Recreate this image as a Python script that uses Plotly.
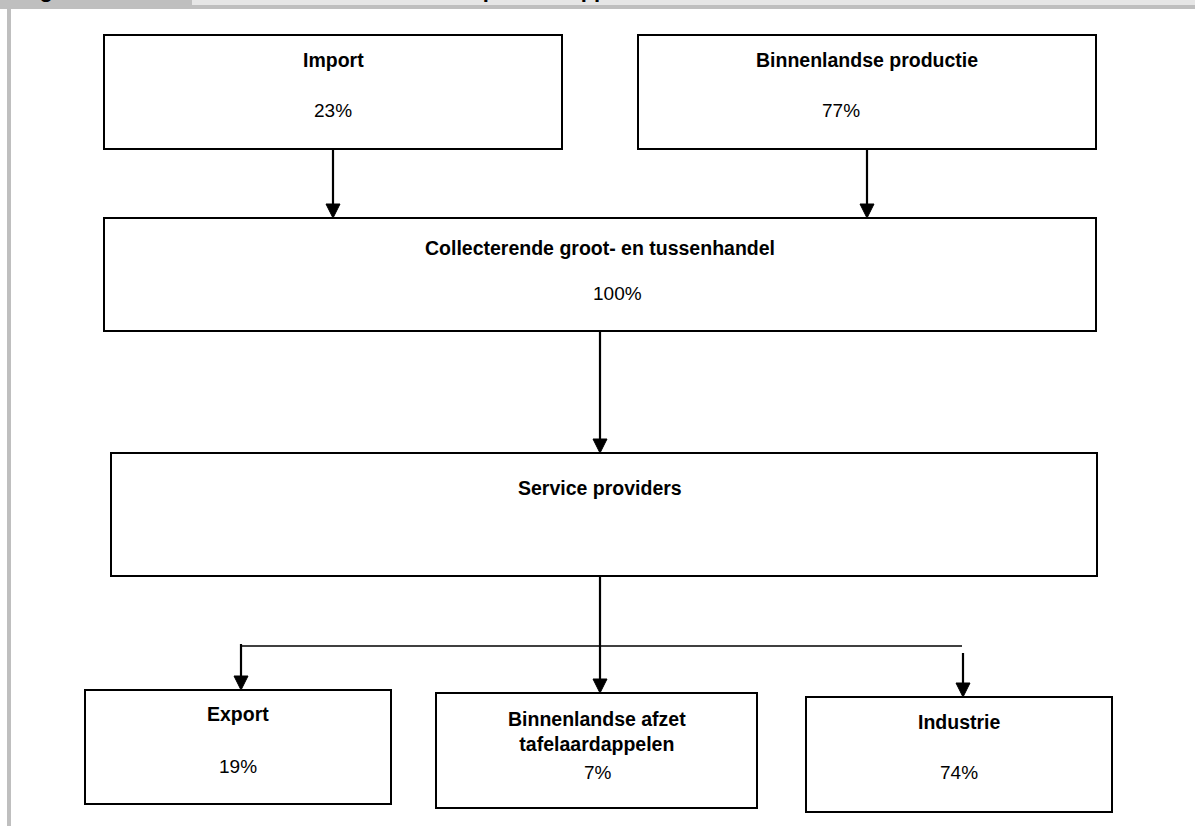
import plotly.graph_objects as go

# ---- data (labels and shares) ----
node_names = ["Import", "Binnenlandse productie", "Collecterende groot- en tussenhandel",
              "Service providers", "Export", "Binnenlandse afzet<br>tafelaardappelen", "Industrie"]
node_shares = ["23%", "77%", "100%", "", "19%", "7%", "74%"]
header_texts = ["Figuur", "Afzetstructuur van consumptieaardappelen"]

# ---- layout geometry (pixel coordinates, y downward) ----
boxes = [  # x0, x1, y0, y1
    (104, 562, 35, 149),
    (638, 1096, 35, 149),
    (104, 1096, 218, 331),
    (111, 1097, 453, 576),
    (85, 391, 690, 804),
    (436, 757, 693, 808),
    (806, 1112, 697, 812),
]
name_pos = [(333, 60), (867, 60), (600, 248), (600, 488), (238, 714), (597, 731), (959, 722)]
share_pos = [(333, 110), (841, 110), (617, 293), None, (238, 766), (598, 772), (959, 772)]

arrows = [  # x, y_start, y_tip
    (333, 149, 218),
    (867, 149, 218),
    (600, 331, 453),
    (600, 576, 693),
    (241, 644, 690),
    (963, 653, 697),
]
branch = (240, 962, 646)

W, H = 1195, 826
fig = go.Figure()
fig.add_trace(go.Scatter(x=[0, W], y=[0, H], mode="markers", marker=dict(opacity=0), hoverinfo="skip",
                         showlegend=False))

shapes = []
# header band and left border
shapes.append(dict(type="rect", x0=0, x1=192, y0=0, y1=9, fillcolor="#bfbfbf", line_width=0, layer="below"))
shapes.append(dict(type="rect", x0=192, x1=W, y0=0, y1=5, fillcolor="#e6e6e6", line_width=0, layer="below"))
shapes.append(dict(type="rect", x0=192, x1=W, y0=5, y1=9, fillcolor="#bfbfbf", line_width=0, layer="below"))
shapes.append(dict(type="rect", x0=7, x1=11, y0=0, y1=H, fillcolor="#bfbfbf", line_width=0, layer="below"))

for (x0, x1, y0, y1) in boxes:
    shapes.append(dict(type="rect", x0=x0, x1=x1, y0=y0, y1=y1, line=dict(color="black", width=2),
                       fillcolor="rgba(0,0,0,0)"))

for (x, ys, yt) in arrows:
    shapes.append(dict(type="line", x0=x, x1=x, y0=ys, y1=yt - 12, line=dict(color="black", width=2.2)))
    shapes.append(dict(type="path", path=f"M {x-7} {yt-14} L {x+7} {yt-14} L {x} {yt} Z",
                       fillcolor="black", line=dict(color="black", width=1)))

bx0, bx1, by = branch
shapes.append(dict(type="line", x0=bx0, x1=bx1, y0=by, y1=by, line=dict(color="black", width=1.6)))

annotations = []
for name, (x, y) in zip(node_names, name_pos):
    annotations.append(dict(x=x, y=y, text=f"<b>{name}</b>", showarrow=False, xanchor="center", yanchor="middle",
                            font=dict(family="Liberation Sans, Arial", size=19.5, color="black")))
for share, pos in zip(node_shares, share_pos):
    if pos is None or not share:
        continue
    annotations.append(dict(x=pos[0], y=pos[1], text=share, showarrow=False, xanchor="center", yanchor="middle",
                            font=dict(family="Liberation Sans, Arial", size=19, color="black")))

# header title (largely cut off at the top edge, as in the reference)
annotations.append(dict(x=18, y=4, text=f"<b>{header_texts[0]}</b>", showarrow=False, xanchor="left",
                        yanchor="bottom", font=dict(family="Liberation Sans, Arial", size=22, color="black")))
annotations.append(dict(x=196, y=4, text=f"<b>{header_texts[1]}</b>", showarrow=False, xanchor="left",
                        yanchor="bottom", font=dict(family="Liberation Sans, Arial", size=22, color="black")))

fig.update_layout(
    width=W, height=H, margin=dict(l=0, r=0, t=0, b=0),
    paper_bgcolor="white", plot_bgcolor="white",
    xaxis=dict(range=[0, W], visible=False, fixedrange=True),
    yaxis=dict(range=[H, 0], visible=False, fixedrange=True),
    shapes=shapes, annotations=annotations, showlegend=False,
)

fig.write_html("out.html", config=dict(displayModeBar=False),
               post_script="document.body.style.margin='0';document.body.style.overflow='hidden';")
